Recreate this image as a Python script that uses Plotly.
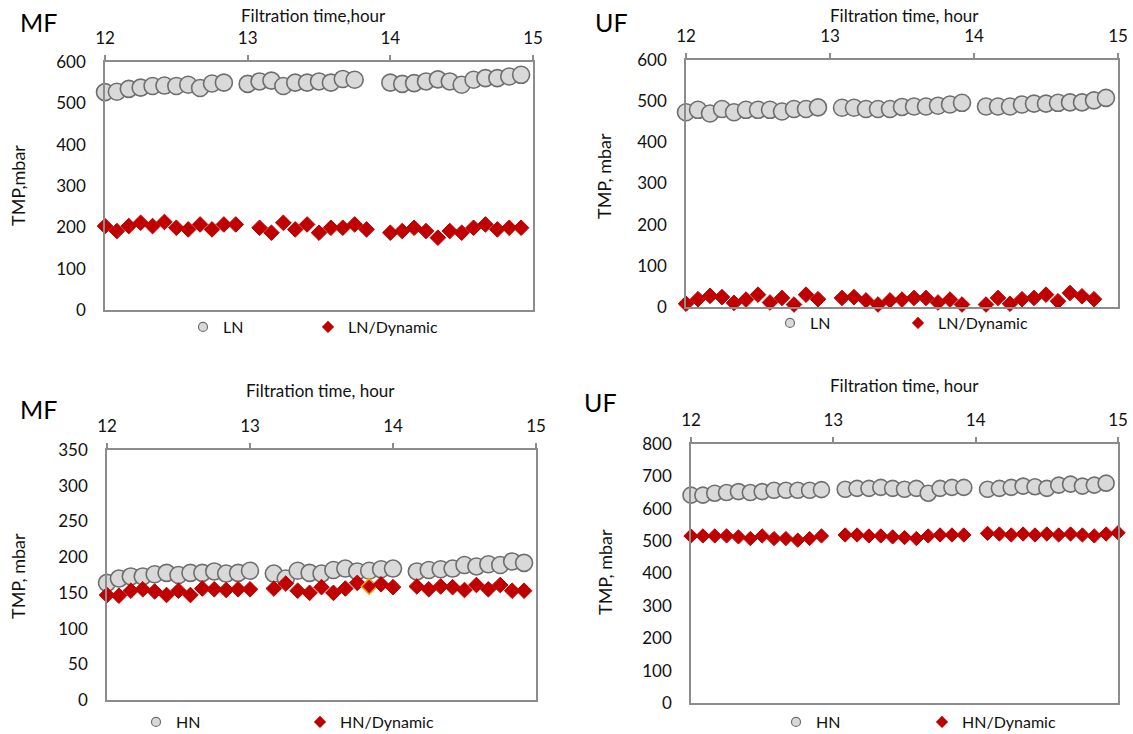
import plotly.graph_objects as go

# ---------------- data (minutes after 12:00, TMP in mbar) ----------------
# Top-left: MF, LN
tl_ln_min = [0, 5, 10, 15, 20, 25, 30, 35, 40, 45, 50,
             60, 65, 70, 75, 80, 85, 90, 95, 100, 105,
             120, 125, 130, 135, 140, 145, 150, 155, 160, 165, 170, 175]
tl_ln_val = [527, 528, 535, 538, 542, 543, 542, 545, 537, 548, 550,
             547, 553, 555, 542, 550, 550, 553, 550, 559, 557,
             550, 547, 549, 553, 558, 553, 545, 557, 561, 561, 565, 569]
tl_lnd_min = [0, 5, 10, 15, 20, 25, 30, 35, 40, 45, 50, 55,
              65, 70, 75, 80, 85, 90, 95, 100, 105, 110,
              120, 125, 130, 135, 140, 145, 150, 155, 160, 165, 170, 175]
tl_lnd_val = [203, 191, 203, 211, 203, 213, 199, 195, 207, 195, 207, 207,
              199, 187, 211, 195, 207, 187, 199, 199, 207, 195,
              187, 191, 199, 191, 175, 191, 187, 199, 207, 195, 199, 199]

# Top-right: UF, LN
tr_ln_min = [0, 5, 10, 15, 20, 25, 30, 35, 40, 45, 50, 55,
             65, 70, 75, 80, 85, 90, 95, 100, 105, 110, 115,
             125, 130, 135, 140, 145, 150, 155, 160, 165, 170, 175]
tr_ln_val = [473, 479, 470, 481, 473, 479, 479, 479, 475, 481, 481, 485,
             484, 484, 481, 481, 481, 486, 487, 487, 489, 492, 496,
             487, 487, 487, 492, 494, 494, 496, 497, 497, 502, 508]
tr_lnd_min = [0, 5, 10, 15, 20, 25, 30, 35, 40, 45, 50, 55,
              65, 70, 75, 80, 85, 90, 95, 100, 105, 110, 115,
              125, 130, 135, 140, 145, 150, 155, 160, 165, 170]
tr_lnd_val = [8, 19, 27, 24, 10, 18, 30, 11, 22, 6, 30, 19,
              22, 24, 16, 6, 16, 18, 22, 22, 11, 18, 6,
              6, 22, 8, 19, 22, 30, 14, 34, 26, 19]

# Bottom-left: MF, HN
bl_hn_min = [0, 5, 10, 15, 20, 25, 30, 35, 40, 45, 50, 55, 60,
             70, 75, 80, 85, 90, 95, 100, 105, 110, 115, 120,
             130, 135, 140, 145, 150, 155, 160, 165, 170, 175]
bl_hn_val = [164, 170, 173, 173, 176, 178, 175, 178, 178, 180, 177, 178, 181,
             177, 170, 181, 178, 177, 182, 184, 180, 181, 183, 184,
             180, 182, 183, 184, 189, 187, 190, 189, 194, 192]
bl_hnd_min = bl_hn_min
bl_hnd_val = [147, 146, 153, 155, 152, 147, 153, 147, 156, 155, 154, 155, 155,
              156, 163, 153, 150, 158, 150, 156, 164, 159, 162, 158,
              159, 155, 159, 158, 154, 161, 155, 161, 153, 153]
bl_highlight_index = 21  # diamond drawn with an orange outline (13:50)

# Bottom-right: UF, HN
br_hn_min = [0, 5, 10, 15, 20, 25, 30, 35, 40, 45, 50, 55,
             65, 70, 75, 80, 85, 90, 95, 100, 105, 110, 115,
             125, 130, 135, 140, 145, 150, 155, 160, 165, 170, 175]
br_hn_val = [642, 642, 648, 650, 653, 650, 653, 657, 657, 657, 657, 659,
             660, 663, 663, 666, 663, 660, 663, 648, 663, 666, 666,
             660, 663, 666, 670, 668, 663, 673, 676, 670, 673, 679]
br_hnd_min = [0, 5, 10, 15, 20, 25, 30, 35, 40, 45, 50, 55,
              65, 70, 75, 80, 85, 90, 95, 100, 105, 110, 115,
              125, 130, 135, 140, 145, 150, 155, 160, 165, 170, 175, 180]
br_hnd_val = [516, 516, 516, 516, 513, 508, 516, 508, 508, 503, 508, 516,
              519, 519, 516, 516, 513, 511, 508, 516, 519, 519, 519,
              524, 522, 519, 522, 519, 522, 519, 522, 519, 516, 522, 526]

x_ticks = [12, 13, 14, 15]

# ---------------- styling ----------------
FONT = "Lato"
GRAY_FILL = "#d9d9d9"
GRAY_LINE = "#6e6e6e"
RED = "#c00000"
FRAME = "#8c8c8c"
W, H = 1133, 734


def hours(mins):
    return [12 + m / 60 for m in mins]


def px_x(a, b):
    return [a / W, b / W]


def px_y(top, bottom):
    return [1 - bottom / H, 1 - top / H]


panels = [
    dict(c=(tl_ln_min, tl_ln_val), d=(tl_lnd_min, tl_lnd_val), names=("LN", "LN/Dynamic"),
         xd=(105, 533), yd=(62, 310), yr=600, dt=100, cs=17, ds=12,
         label="MF", label_xy=(38, 22), title="Filtration time,hour", title_xy=(313, 15),
         ytitle="TMP,mbar", ytitle_xy=(18, 186), leg_y=327, leg_x=(203, 328)),
    dict(c=(tr_ln_min, tr_ln_val), d=(tr_lnd_min, tr_lnd_val), names=("LN", "LN/Dynamic"),
         xd=(686, 1118), yd=(60, 307), yr=600, dt=100, cs=17, ds=12,
         label="UF", label_xy=(611, 22), title="Filtration time, hour", title_xy=(905, 15),
         ytitle="TMP, mbar", ytitle_xy=(604, 176), leg_y=323, leg_x=(790, 918)),
    dict(c=(bl_hn_min, bl_hn_val), d=(bl_hnd_min, bl_hnd_val), names=("HN", "HN/Dynamic"),
         xd=(107, 536), yd=(450, 700), yr=350, dt=50, cs=17, ds=12,
         label="MF", label_xy=(38, 409), title="Filtration time, hour", title_xy=(320, 390),
         ytitle="TMP, mbar", ytitle_xy=(18, 576), leg_y=722, leg_x=(156, 320)),
    dict(c=(br_hn_min, br_hn_val), d=(br_hnd_min, br_hnd_val), names=("HN", "HN/Dynamic"),
         xd=(691, 1118), yd=(444, 703), yr=800, dt=100, cs=16, ds=11,
         label="UF", label_xy=(600, 402), title="Filtration time, hour", title_xy=(905, 385),
         ytitle="TMP, mbar", ytitle_xy=(605, 572), leg_y=722, leg_x=(796, 942)),
]

fig = go.Figure()
annotations = []
layout = {}
leg_no = 0

for i, p in enumerate(panels, start=1):
    sx = "" if i == 1 else str(i)
    xa, ya = "x" + sx, "y" + sx

    d_line = [RED] * len(p["d"][1])
    d_width = 1
    if i == 3:
        d_line[bl_highlight_index] = "#f0a000"
        d_width = [1.6 if k == bl_highlight_index else 1 for k in range(len(d_line))]

    fig.add_trace(go.Scatter(
        x=hours(p["c"][0]), y=p["c"][1], mode="markers", xaxis=xa, yaxis=ya,
        marker=dict(symbol="circle", size=p["cs"], color=GRAY_FILL,
                    line=dict(color=GRAY_LINE, width=1.6)),
        showlegend=False, cliponaxis=False, name=p["names"][0]))
    fig.add_trace(go.Scatter(
        x=hours(p["d"][0]), y=p["d"][1], mode="markers", xaxis=xa, yaxis=ya,
        marker=dict(symbol="diamond", size=p["ds"], color=RED,
                    line=dict(color=d_line, width=d_width)),
        showlegend=False, cliponaxis=False, name=p["names"][1]))

    # legend entries: one small legend per entry so each sits where the reference shows it
    entries = [
        dict(symbol="circle", size=9, color=GRAY_FILL, line=dict(color=GRAY_LINE, width=1.2)),
        dict(symbol="diamond", size=9, color=RED, line=dict(color=RED, width=0.5)),
    ]
    for k in range(2):
        leg_no += 1
        leg = "legend" if leg_no == 1 else "legend" + str(leg_no)
        fig.add_trace(go.Scatter(
            x=[None], y=[None], mode="markers", xaxis=xa, yaxis=ya, legend=leg,
            marker=entries[k], name=p["names"][k]))
        layout[leg] = dict(
            orientation="h", x=(p["leg_x"][k] - 20) / W, y=1 - p["leg_y"] / H,
            xanchor="left", yanchor="middle", bgcolor="rgba(0,0,0,0)",
            font=dict(family=FONT, size=16, color="#111"))

    layout["xaxis" + sx] = dict(
        domain=px_x(*p["xd"]), anchor=ya, side="top", range=[12, 15],
        tickvals=x_ticks, ticks="outside", ticklen=5, tickcolor=FRAME, tickwidth=1.5,
        showline=True, linecolor=FRAME, linewidth=1.6, mirror=True,
        showgrid=False, zeroline=False, ticklabelstandoff=4, automargin=False,
        tickfont=dict(family=FONT, size=17, color="#111"))
    layout["yaxis" + sx] = dict(
        domain=px_y(*p["yd"]), anchor=xa, range=[0, p["yr"]], dtick=p["dt"],
        ticks="", showline=True, linecolor=FRAME, linewidth=1.6, mirror=True,
        showgrid=False, zeroline=False, ticklabelstandoff=14, automargin=False,
        tickfont=dict(family=FONT, size=17, color="#111"))

    annotations += [
        dict(text=p["label"], x=p["label_xy"][0] / W, y=1 - p["label_xy"][1] / H,
             xref="paper", yref="paper", showarrow=False, xanchor="center", yanchor="middle",
             font=dict(family=FONT, size=25, color="#000")),
        dict(text=p["title"], x=p["title_xy"][0] / W, y=1 - p["title_xy"][1] / H,
             xref="paper", yref="paper", showarrow=False, xanchor="center", yanchor="middle",
             font=dict(family=FONT, size=17, color="#111")),
        dict(text=p["ytitle"], x=p["ytitle_xy"][0] / W, y=1 - p["ytitle_xy"][1] / H,
             xref="paper", yref="paper", showarrow=False, xanchor="center", yanchor="middle",
             textangle=-90, font=dict(family=FONT, size=18, color="#111")),
    ]

fig.update_layout(
    width=W, height=H, margin=dict(l=0, r=0, t=0, b=0, pad=0, autoexpand=False),
    paper_bgcolor="white", plot_bgcolor="white",
    annotations=annotations, **layout)

fig.write_html(
    "out.html",
    config={"displayModeBar": False},
    post_script="document.body.style.margin='0px';document.body.style.overflow='hidden';")
